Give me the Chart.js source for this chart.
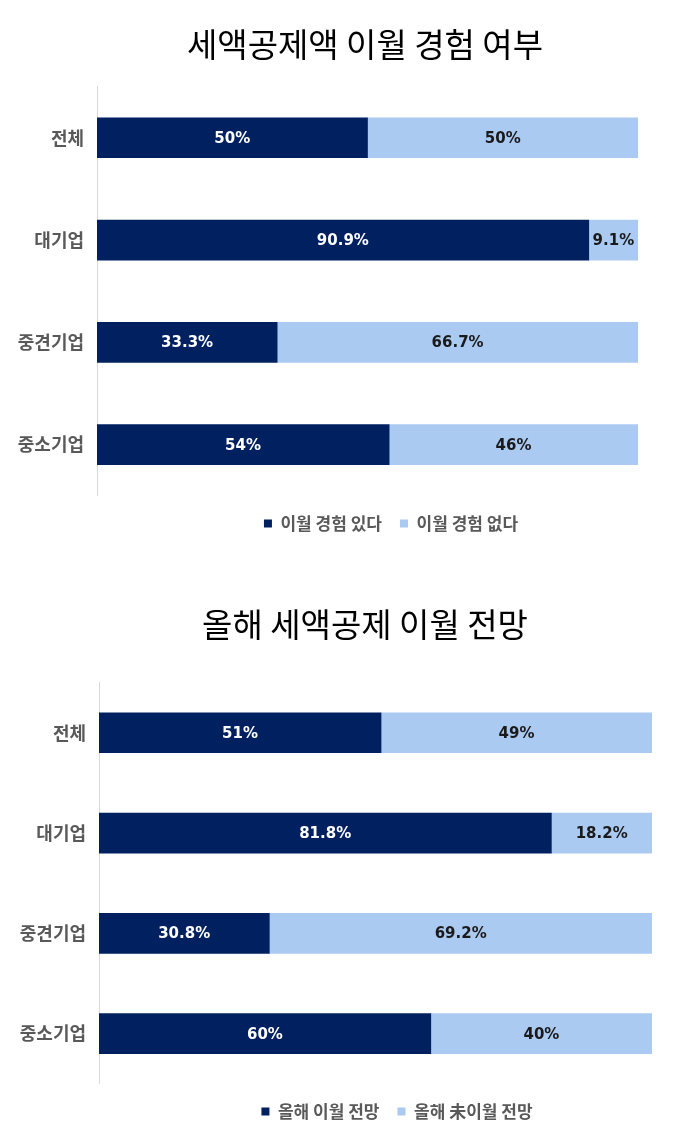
<!DOCTYPE html>
<html>
<head>
<meta charset="utf-8">
<script src="https://cdn.jsdelivr.net/npm/chart.js@4.4.0/dist/chart.umd.min.js"></script>
<style>
  html, body { margin: 0; padding: 0; background: #fff; }
  body { width: 700px; height: 1138px; position: relative; overflow: hidden; }
  .box { position: absolute; left: 0; width: 700px; }
</style>
</head>
<body>
<div class="box" id="box1" style="top:0;height:550px"><canvas id="c1"></canvas></div>
<div class="box" id="box2" style="top:570px;height:568px"><canvas id="c2"></canvas></div>
<script>
// 데이터
const categories = ['전체', '대기업', '중견기업', '중소기업'];

const title1 = '세액공제액 이월 경험 여부';
const seriesNames1 = ['이월 경험 있다', '이월 경험 없다'];
const carried1 = [50, 90.9, 33.3, 54];
const notCarried1 = [50, 9.1, 66.7, 46];

const title2 = '올해 세액공제 이월 전망';
const seriesNames2 = ['올해 이월 전망', '올해 未이월 전망'];
const expect2 = [51, 81.8, 30.8, 60];
const notExpect2 = [49, 18.2, 69.2, 40];

const NAVY = '#002060';
const LIGHT = '#abcaf2';
const GRAY = '#595959';
const KR = "'Noto Sans CJK KR', 'Noto Sans', sans-serif";

// 막대 안 숫자 라벨
const barLabels = {
    id: 'barLabels',
    afterDatasetsDraw(chart) {
        const ctx = chart.ctx;
        ctx.save();
        ctx.font = "bold 15px 'DejaVu Sans', sans-serif";
        ctx.textAlign = 'center';
        ctx.textBaseline = 'middle';
        chart.data.datasets.forEach((ds, i) => {
            const meta = chart.getDatasetMeta(i);
            meta.data.forEach((bar, j) => {
                const v = ds.data[j];
                const x = (bar.x + bar.base) / 2;
                ctx.fillStyle = i === 0 ? '#ffffff' : '#1a1a1a';
                ctx.fillText(v + '%', x, bar.y + 1);
            });
        });
        ctx.restore();
    }
};

// 제목, 범례 위치 옮기기
const boxShift = {
    id: 'boxShift',
    afterLayout(chart, args, opts) {
        const lg = chart.legend;
        if (lg) { lg.left += opts.legendDx; lg.right += opts.legendDx; }
        const tb = chart.titleBlock;
        if (tb) { tb.left += opts.titleDx; tb.right += opts.titleDx; }
    }
};

function makeChart(id, titleText, names, a, b, o) {
    return new Chart(document.getElementById(id), {
        type: 'bar',
        data: {
            labels: categories,
            datasets: [
                { label: names[0], data: a, backgroundColor: NAVY, barThickness: 40 },
                { label: names[1], data: b, backgroundColor: LIGHT, barThickness: 40 }
            ]
        },
        options: {
            indexAxis: 'y',
            responsive: true,
            maintainAspectRatio: false,
            animation: false,
            layout: { padding: { left: 0, right: o.right, top: 0, bottom: o.bottom } },
            scales: {
                x: {
                    stacked: true, min: 0, max: 100,
                    display: false
                },
                y: {
                    stacked: true,
                    grid: { display: false, drawTicks: false },
                    border: { display: true, color: '#d9d9d9', width: 1 },
                    ticks: {
                        color: GRAY, padding: 13,
                        font: { family: KR, size: 18, weight: 'bold' }
                    },
                    afterFit(scale) { scale.width = o.axisX; }
                }
            },
            plugins: {
                title: {
                    display: true, text: titleText, color: '#000',
                    font: { family: KR, size: 33, weight: 'normal' },
                    padding: { top: o.titleTop, bottom: o.titleBottom }
                },
                legend: {
                    position: 'bottom',
                    title: { display: true, text: '', font: { size: 1 }, padding: { top: 0, bottom: 0 } },
                    labels: {
                        boxWidth: 8, boxHeight: 8, padding: 18, color: GRAY,
                        font: { family: KR, size: 17, weight: 'bold' }
                    }
                },
                boxShift: { legendDx: o.legendDx, titleDx: o.titleDx },
                tooltip: { enabled: false }
            }
        },
        plugins: [barLabels, boxShift]
    });
}

makeChart('c1', title1, seriesNames1, carried1, notCarried1,
    { right: 62, bottom: 8, axisX: 97, titleTop: 25, titleBottom: 22, legendDx: 72, titleDx: 46 });
makeChart('c2', title2, seriesNames2, expect2, notExpect2,
    { right: 48, bottom: 8, axisX: 99, titleTop: 35, titleBottom: 38, legendDx: 71, titleDx: 39 });
</script>
</body>
</html>
